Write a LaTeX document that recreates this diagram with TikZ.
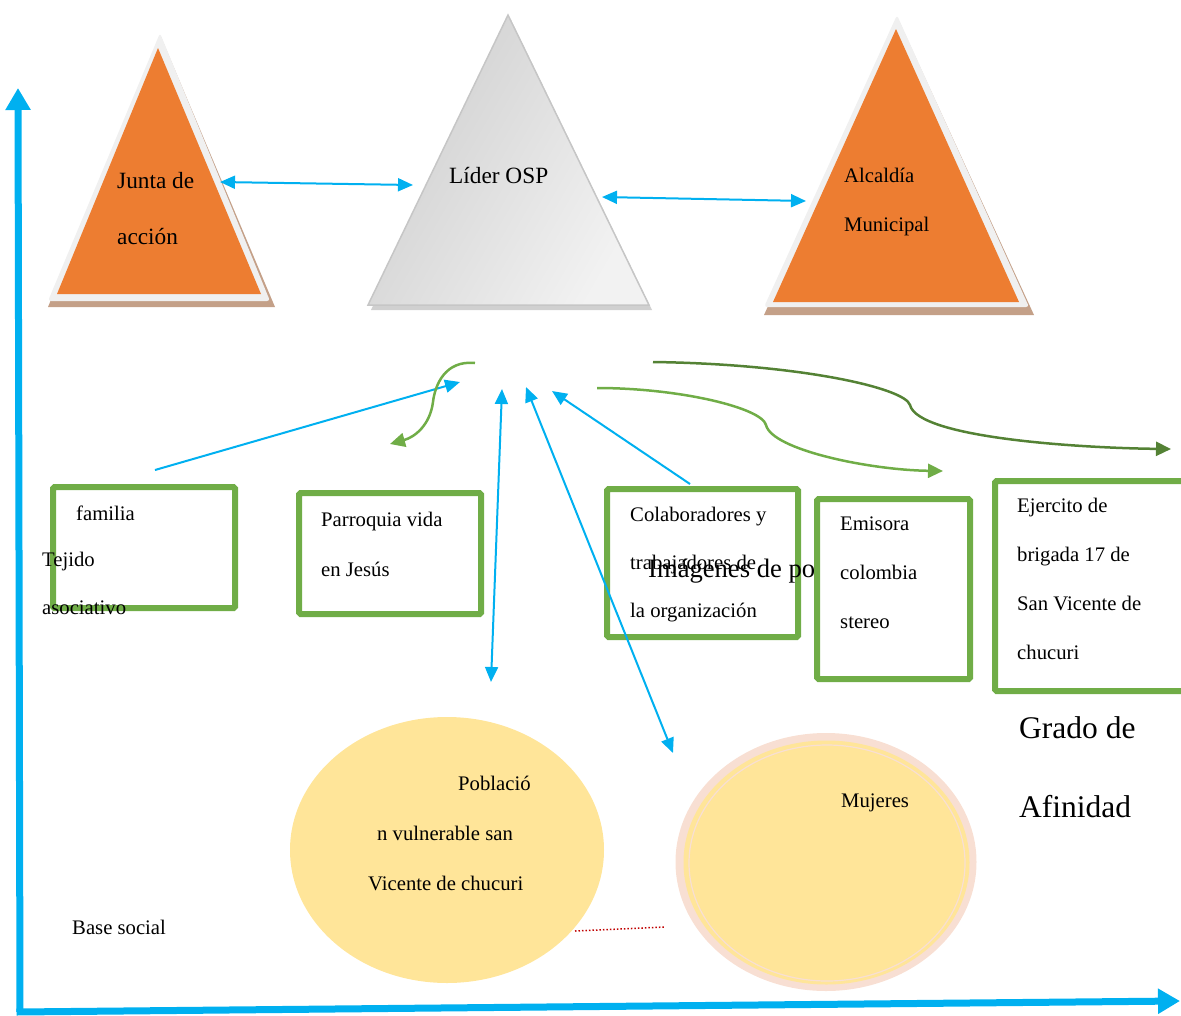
\documentclass[tikz,border=0pt]{standalone}
\usepackage{fontspec}
\setmainfont{Liberation Serif}
\usepackage{tikz}
\usetikzlibrary{arrows.meta,shapes.geometric}
\definecolor{naranja}{HTML}{ED7D31}
\definecolor{borde}{HTML}{F0F0F0}
\definecolor{sombra}{HTML}{C4A088}
\definecolor{gris}{HTML}{C4C4C4}
\definecolor{azul}{HTML}{00B0F0}
\definecolor{verde}{HTML}{70AD47}
\definecolor{verdeosc}{HTML}{548235}
\definecolor{amarillo}{HTML}{FFE599}
\definecolor{rosa}{HTML}{F8DFD3}
\definecolor{rojo}{HTML}{C00000}

\begin{document}
\begin{tikzpicture}[x=1pt,y=-1pt]
	\tikzstyle{every node}+=[inner sep=0pt]
	\tikzstyle{txt}=[anchor=base west, align=left, font=\fontsize{20.7}{49}\selectfont]
	\tikzstyle{caja}=[draw=verde, line width=6pt, rounded corners=1.5pt]
	\tikzstyle{flecha}=[azul, line width=2pt, -{Triangle[length=15pt,width=13pt]}]
	\tikzstyle{doble}=[azul, line width=2pt, {Triangle[length=15pt,width=13pt]}-{Triangle[length=15pt,width=13pt]}]
	\tikzstyle{curva}=[line width=2.5pt, -{Triangle[length=15pt,width=14pt]}]
	\tikzstyle{eje}=[azul, line width=7pt, -{Triangle[length=22pt,width=24pt]}]
	\useasboundingbox (0,0) rectangle (1181,1015);
	\fill [sombra] (161,37) -- (275,307) -- (48,307) -- cycle;
	\fill [borde, rounded corners=3pt] (160,33) -- (270,301) -- (48,301) -- cycle;
	\fill [naranja] (158,48) -- (261,294) -- (57,294) -- cycle;
	\node [txt, font=\fontsize{23.3}{56}\selectfont] (tjunta) at (117,244) {Junta de\\acción};
	\fill [gris!80] (511,20) -- (652,310) -- (371,310) -- cycle;
	\shade [left color=gray!38, right color=gray!10, shading angle=60, draw=gray!45, line width=1.5pt] (508,15) -- (649,305) -- (368,305) -- cycle;
	\node [txt, font=\fontsize{23.3}{56}\selectfont] (tlider) at (449,183) {Líder OSP};
	\fill [sombra] (898,19) -- (1034,315) -- (764,315) -- cycle;
	\fill [borde, rounded corners=3pt] (897,15) -- (1029,307) -- (764,307) -- cycle;
	\fill [naranja] (896,29) -- (1019,302) -- (773,302) -- cycle;
	\node [txt] (talcaldia) at (844,231) {Alcaldía\\Municipal};
	\node [caja, minimum width=182pt, minimum height=121pt] (cfamilia) at (144,547.5) {};
	\node [caja, minimum width=182pt, minimum height=121pt] (cparroquia) at (390,553.5) {};
	\node [caja, minimum width=191pt, minimum height=148pt] (ccolab) at (702.5,563) {};
	\node [caja, minimum width=153pt, minimum height=180pt] (cemisora) at (893.5,589) {};
	\node [caja, minimum width=200pt, minimum height=210pt] (cejercito) at (1095,586) {};
	\node [txt] (tfamilia) at (76,520) {familia};
	\node [txt, font=\fontsize{20.7}{48}\selectfont] (ttejido) at (42,614) {Tejido\\asociativo};
	\node [txt, font=\fontsize{20.7}{50}\selectfont] (tparroquia) at (321,576) {Parroquia vida\\en Jesús};
	\node [txt, font=\fontsize{20.7}{48}\selectfont] (tcolab) at (630,617) {Colaboradores y\\trabajadores de\\la organización};
	\node [txt, font=\fontsize{26.6}{30}\selectfont] (timagenes) at (648,577) {Imágenes de po};
	\node [txt] (temisora) at (840,628) {Emisora\\colombia\\stereo};
	\node [txt] (tejercito) at (1017,659) {Ejercito de\\brigada 17 de\\San Vicente de\\chucuri};
	\node [txt, font=\fontsize{31.5}{79}\selectfont] (tgrado) at (1019,817) {Grado de\\Afinidad};
	\node [ellipse, fill=amarillo, minimum width=314pt, minimum height=266pt] (epoblacion) at (447,850) {};
	\node [txt] (tpob1) at (458,790) {Població};
	\node [txt] (tpob2) at (377,840) {n vulnerable san};
	\node [txt] (tpob3) at (368,890) {Vicente de chucuri};
	\node [ellipse, fill=rosa, minimum width=301pt, minimum height=258pt] (emujeres) at (826,862) {};
	\node [ellipse, fill=amarillo, minimum width=286pt, minimum height=244pt] at (826.5,862.5) {};
	\node [ellipse, draw=rosa, line width=1.2pt, minimum width=276pt, minimum height=236pt] at (827,863) {};
	\node [txt] (tmujeres) at (841,807) {Mujeres};
	\node [txt] (tbase) at (72,934) {Base social};
	\coordinate (jl1) at (220,182);
	\coordinate (jl2) at (413,185);
	\coordinate (la1) at (602,197);
	\coordinate (la2) at (806,201);
	\coordinate (fam) at (155,470);
	\coordinate (famtip) at (460,382);
	\coordinate (vtop) at (502,389);
	\coordinate (vbot) at (491,682);
	\coordinate (mtop) at (526,387);
	\coordinate (mbot) at (673,753);
	\coordinate (col) at (690,484);
	\coordinate (coltip) at (552,391);
	\coordinate (g1a) at (475,363);
	\coordinate (g1b) at (390,444);
	\coordinate (g2a) at (597,388);
	\coordinate (g2b) at (943,471);
	\coordinate (g3a) at (653,362);
	\coordinate (g3b) at (1171,449);
	\coordinate (pa) at (575,931);
	\coordinate (pb) at (665,927);
	\coordinate (origen) at (20,1012);
	\coordinate (yfin) at (18,88);
	\coordinate (xfin) at (1180,1001);
	\draw [doble] (jl1) -- (jl2);
	\draw [doble] (la1) -- (la2);
	\draw [flecha] (fam) -- (famtip);
	\draw [doble] (vtop) -- (vbot);
	\draw [doble] (mtop) -- (mbot);
	\draw [flecha] (col) -- (coltip);
	\draw [curva, verde] (g1a) .. controls (445,360) and (435,385) .. (433,402) .. controls (430,425) and (415,437) .. (g1b);
	\draw [curva, verde] (g2a) .. controls (680,388) and (762,408) .. (766,425) .. controls (772,450) and (870,470) .. (g2b);
	\draw [curva, verdeosc] (g3a) .. controls (800,364) and (905,388) .. (910,405) .. controls (918,438) and (1080,448) .. (g3b);
	\draw [rojo, line width=1.5pt, dotted] (pa) -- (pb);
	\draw [eje] (origen) -- (yfin);
	\draw [eje] ([xshift=-3.5pt]origen) -- (xfin);
\end{tikzpicture}
\end{document}
